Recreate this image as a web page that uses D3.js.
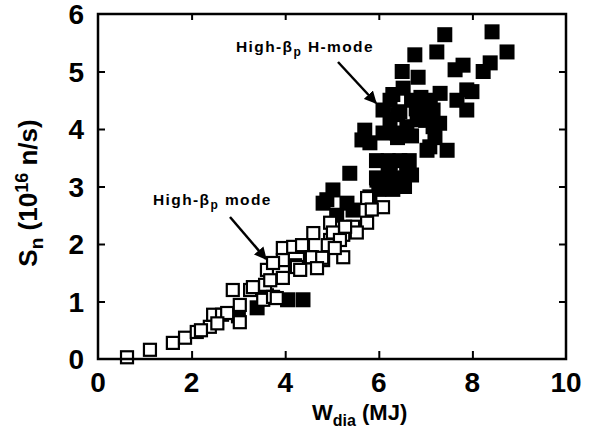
<!DOCTYPE html>
<html><head><meta charset="utf-8">
<script src="https://cdn.jsdelivr.net/npm/d3@7"></script>
<style>body{margin:0;background:#fff}svg{display:block}text{font-family:"Liberation Sans",Arial,Helvetica,sans-serif;font-weight:bold;fill:#000}</style>
</head><body>
<script>
// ---- data ----
const xTicks = [0, 2, 4, 6, 8, 10];
const yTicks = [0, 1, 2, 3, 4, 5, 6];
// High-βp H-mode (filled squares)
const hmodeX = [7.41,8.42,8.74,7.24,6.77,7.80,7.63,8.38,8.23,6.50,6.84,6.52,7.31,7.88,7.99,7.67,7.88,6.24,6.09,6.94,7.16,6.82,6.24,6.60,7.16,5.70,5.64,5.81,6.09,6.39,7.09,7.46,6.24,6.60,6.24,6.60,5.96,5.38,5.02,4.89,5.32,5.81,7.03,4.81,5.45,5.10,4.38,4.05,3.40,6.45,6.95,6.30,6.70,6.90,7.10,6.40,6.80,7.00,7.30,6.40,6.70,7.20,5.95,6.20,6.45,6.65,5.95,6.20,6.45,6.70,6.00,6.30,6.55,3.60,3.00];
const hmodeY = [5.64,5.69,5.34,5.34,5.29,5.11,5.03,5.15,5.00,5.00,4.90,4.71,4.62,4.68,4.65,4.50,4.33,4.50,4.33,4.38,4.33,4.16,4.16,4.04,4.04,3.98,3.81,3.76,3.93,3.93,3.69,3.63,3.41,3.41,3.23,3.23,3.11,3.23,2.94,2.77,2.71,2.82,3.63,2.71,2.59,2.50,1.03,1.03,0.89,4.30,4.20,4.60,4.50,4.55,4.50,4.25,4.35,4.15,4.10,3.85,3.88,3.85,3.45,3.45,3.45,3.45,3.15,3.20,3.15,3.20,2.95,2.95,3.00,1.10,0.75];
// High-βp mode (open squares)
const lmodeX = [0.62,1.11,1.60,1.86,2.11,2.39,2.46,2.65,2.76,3.03,2.88,3.03,3.25,3.31,3.53,3.57,3.74,3.95,3.61,3.68,4.21,4.25,3.95,3.82,4.53,4.60,4.96,4.96,5.24,5.24,4.81,4.38,4.17,3.95,3.74,5.45,5.75,5.53,5.28,5.02,5.17,4.91,4.36,4.57,5.06,4.79,4.32,4.68,5.75,6.09,5.85,2.20,2.55];
const lmodeY = [0.03,0.16,0.28,0.37,0.47,0.56,0.77,0.77,0.80,0.64,1.20,0.94,1.20,1.25,1.03,1.29,1.08,1.41,1.55,1.37,1.63,1.60,1.93,1.06,1.77,2.19,2.07,2.37,2.16,1.77,1.72,1.95,1.95,1.72,1.67,2.30,2.37,2.20,2.30,2.20,2.07,1.98,1.98,1.77,1.93,1.76,1.55,1.58,2.80,2.64,2.60,0.50,0.62];

const W = 596, H = 430;
const svg = d3.select("body").append("svg").attr("width", W).attr("height", H);
const x = d3.scaleLinear().domain([0, 10]).range([98, 566]);
const y = d3.scaleLinear().domain([0, 6]).range([359, 14]);

// points: filled first, then open
const filled = hmodeX.map((v, i) => [v, hmodeY[i]]);
const open = lmodeX.map((v, i) => [v, lmodeY[i]]);
const s = 15;
svg.append("g").selectAll("rect").data(filled).join("rect")
  .attr("x", d => x(d[0]) - s / 2).attr("y", d => y(d[1]) - s / 2)
  .attr("width", s).attr("height", s).attr("fill", "#000");
const so = 12;
svg.append("g").selectAll("rect").data(open).join("rect")
  .attr("x", d => x(d[0]) - so / 2).attr("y", d => y(d[1]) - so / 2)
  .attr("width", so).attr("height", so).attr("fill", "#fff")
  .attr("stroke", "#000").attr("stroke-width", 2.2);

// frame & ticks
const inner = xTicks.filter(t => t > 0 && t < 10);
const innerY = yTicks.filter(t => t > 0 && t < 6);
const ax = (g) => g.call(gg => gg.select(".domain").remove());
svg.append("g").attr("transform", "translate(0,359)")
  .call(d3.axisBottom(x).tickValues(inner).tickSizeInner(-8).tickSizeOuter(0).tickFormat(""))
  .call(ax).selectAll("line").attr("stroke-width", 2);
svg.append("g").attr("transform", "translate(0,14)")
  .call(d3.axisTop(x).tickValues(inner).tickSizeInner(-6).tickSizeOuter(0).tickFormat(""))
  .call(ax).selectAll("line").attr("stroke-width", 2);
svg.append("g").attr("transform", "translate(98,0)")
  .call(d3.axisLeft(y).tickValues(innerY).tickSizeInner(-7).tickSizeOuter(0).tickFormat(""))
  .call(ax).selectAll("line").attr("stroke-width", 2);
svg.append("g").attr("transform", "translate(566,0)")
  .call(d3.axisRight(y).tickValues(innerY).tickSizeInner(-7).tickSizeOuter(0).tickFormat(""))
  .call(ax).selectAll("line").attr("stroke-width", 2);
svg.append("rect").attr("x", x(0)).attr("y", y(6)).attr("width", x(10) - x(0)).attr("height", y(0) - y(6))
  .attr("fill", "none").attr("stroke", "#000").attr("stroke-width", 2.5);

// tick labels
svg.append("g").selectAll("text").data(xTicks).join("text")
  .attr("x", d => x(d)).attr("y", 392).attr("text-anchor", "middle")
  .attr("font-size", 28).text(d => d);
svg.append("g").selectAll("text").data(yTicks).join("text")
  .attr("x", 84).attr("y", d => y(d)).attr("dy", "0.36em").attr("text-anchor", "end")
  .attr("font-size", 28).text(d => d);

// axis titles
const xt = svg.append("text").attr("x", 312).attr("y", 420).attr("font-size", 22);
xt.append("tspan").text("W");
xt.append("tspan").attr("dy", 6).attr("font-size", 16).text("dia");
xt.append("tspan").attr("dy", -6).text(" (MJ)");

const yt = svg.append("text").attr("transform", "translate(37,193) rotate(-90)")
  .attr("text-anchor", "middle").attr("font-size", 26);
yt.append("tspan").text("S");
yt.append("tspan").attr("dy", 6).attr("font-size", 19).text("n");
yt.append("tspan").attr("dy", -6).text(" (10");
yt.append("tspan").attr("dy", -9).attr("font-size", 18).text("16");
yt.append("tspan").attr("dy", 9).text(" n/s)");

// annotations
const defs = svg.append("defs");
defs.append("marker").attr("id", "ah").attr("viewBox", "0 0 10 10").attr("refX", 9).attr("refY", 5)
  .attr("markerWidth", 5).attr("markerHeight", 5).attr("orient", "auto")
  .append("path").attr("d", "M0,0 L10,5 L0,10 z").attr("fill", "#000");

function label(tx, ty, pre, post) {
  const t = svg.append("text").attr("x", tx).attr("y", ty).attr("font-size", 15.5).attr("letter-spacing", 1.4);
  t.append("tspan").text(pre);
  t.append("tspan").attr("dy", 4).attr("font-size", 12).text("p");
  t.append("tspan").attr("dy", -4).text(post);
}
label(236, 52, "High-β", " H-mode");
label(153, 205, "High-β", " mode");
svg.append("line").attr("x1", 338).attr("y1", 62).attr("x2", 376).attr("y2", 103)
  .attr("stroke", "#000").attr("stroke-width", 2.5).attr("marker-end", "url(#ah)");
svg.append("line").attr("x1", 230).attr("y1", 217).attr("x2", 266).attr("y2", 259)
  .attr("stroke", "#000").attr("stroke-width", 2.5).attr("marker-end", "url(#ah)");
</script>
</body></html>
